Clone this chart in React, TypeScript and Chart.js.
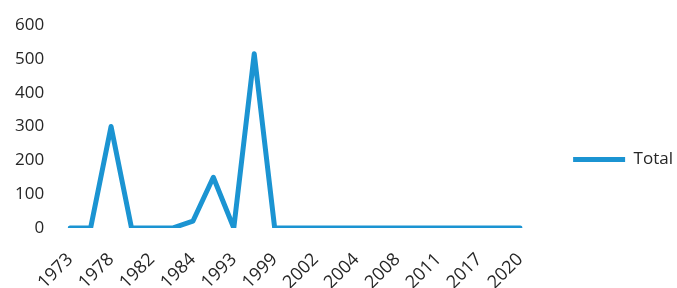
import React, { useEffect, useRef } from "react";
import { Chart, registerables } from "chart.js";

Chart.register(...registerables);

const years: string[] = [
  "1973", "1977", "1978", "1979", "1982", "1983", "1984", "1987", "1993", "1996", "1999", "2001",
  "2002", "2003", "2004", "2006", "2008", "2010", "2011", "2015", "2017", "2019", "2020",
];
const totals: number[] = [0, 0, 300, 0, 0, 0, 20, 150, 0, 515, 0, 0, 0, 0, 0, 0, 0, 0, 0, 0, 0, 0, 0];
const yTicks: number[] = [0, 100, 200, 300, 400, 500, 600];
const seriesName = "Total";

const lineColor = "#1B94D2";
const textColor = "#262626";
const fontFamily = "'Open Sans', sans-serif";

export default function App() {
  const canvasRef = useRef<HTMLCanvasElement | null>(null);

  useEffect(() => {
    if (!canvasRef.current) return;
    const legendShift = {
      id: "legendShift",
      afterLayout(chart: any) {
        const l = chart.legend;
        if (l) {
          l.top += 3;
          l.bottom += 3;
        }
      },
    };
    const chart = new Chart(canvasRef.current, {
      type: "line",
      data: {
        labels: years,
        datasets: [
          {
            label: seriesName,
            data: totals,
            borderColor: lineColor,
            backgroundColor: lineColor,
            borderWidth: 5,
            tension: 0,
            pointRadius: 0,
            pointHoverRadius: 0,
            borderCapStyle: "round",
            borderJoinStyle: "round",
            fill: false,
          },
        ],
      },
      options: {
        animation: false,
        responsive: true,
        maintainAspectRatio: false,
        layout: { padding: { left: -11, right: -6, top: 25, bottom: 0 } },
        plugins: {
          tooltip: { enabled: false },
          legend: {
            position: "right",
            labels: {
              usePointStyle: true,
              pointStyle: "line",
              pointStyleWidth: 52,
              padding: 53,
              color: textColor,
              font: { family: fontFamily, size: 17 },
            },
          },
        },
        scales: {
          x: {
            grid: { display: false, drawTicks: false },
            border: { display: false },
            ticks: {
              autoSkip: false,
              minRotation: 45,
              maxRotation: 45,
              padding: 21,
              color: textColor,
              font: { family: fontFamily, size: 18 },
              callback: (_v: any, i: number) => (i % 2 === 0 ? years[i] : ""),
            },
            afterFit: (scale: any) => {
              scale.height = 60;
              scale.paddingLeft = 0;
              scale.paddingRight = 0;
            },
          },
          y: {
            min: 0,
            max: 600,
            grid: { display: false, drawTicks: false },
            border: { display: false },
            afterBuildTicks: (scale: any) => {
              scale.ticks = yTicks.map((v) => ({ value: v }));
            },
            ticks: {
              padding: 26,
              color: textColor,
              font: { family: fontFamily, size: 17 },
            },
            afterFit: (scale: any) => {
              scale.paddingTop = 0;
              scale.paddingBottom = 0;
            },
          },
        },
      },
      plugins: [legendShift],
    });
    return () => chart.destroy();
  }, []);

  return (
    <div style={{ position: "absolute", left: 0, top: 0, width: 677, height: 288, background: "#fff" }}>
      <canvas ref={canvasRef} />
    </div>
  );
}
